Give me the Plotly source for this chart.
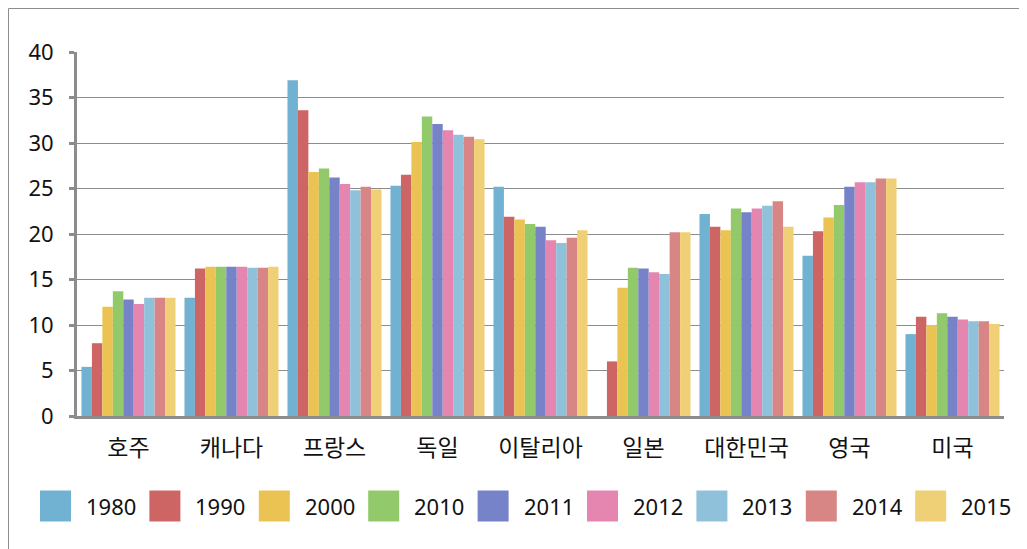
import plotly.graph_objects as go

countries = ["호주", "캐나다", "프랑스", "독일", "이탈리아", "일본", "대한민국", "영국", "미국"]
years = ["1980", "1990", "2000", "2010", "2011", "2012", "2013", "2014", "2015"]
colors = ["#71B1D1", "#CD6565", "#EBC352", "#92C96A", "#7683C8", "#E586B0", "#90C1DA", "#D78585", "#EFD077"]

v1980 = [5.4, 13.0, 36.9, 25.3, 25.2, None, 22.2, 17.6, 9.0]
v1990 = [8.0, 16.2, 33.6, 26.5, 21.9, 6.0, 20.8, 20.3, 10.9]
v2000 = [12.0, 16.4, 26.8, 30.1, 21.6, 14.1, 20.4, 21.8, 10.0]
v2010 = [13.7, 16.4, 27.2, 32.9, 21.1, 16.3, 22.8, 23.2, 11.3]
v2011 = [12.8, 16.4, 26.2, 32.1, 20.8, 16.2, 22.4, 25.2, 10.9]
v2012 = [12.3, 16.4, 25.5, 31.4, 19.3, 15.8, 22.8, 25.7, 10.6]
v2013 = [13.0, 16.3, 24.8, 30.9, 19.0, 15.6, 23.1, 25.7, 10.4]
v2014 = [13.0, 16.3, 25.2, 30.7, 19.6, 20.2, 23.6, 26.1, 10.4]
v2015 = [13.0, 16.4, 24.9, 30.4, 20.4, 20.2, 20.8, 26.1, 10.1]
series = [v1980, v1990, v2000, v2010, v2011, v2012, v2013, v2014, v2015]

y_ticks = [0, 5, 10, 15, 20, 25, 30, 35, 40]

# page has an 8px body margin: size and place the figure so the window shows it like the reference
OFF = 8
W, H = 1027 - OFF, 549 - OFF
L, R, T, B = 77 - OFF, 23, 52 - OFF, 133
pw, ph = W - L - R, H - T - B
FONT = "Noto Sans CJK KR, Noto Sans, sans-serif"
NUMFONT = "Noto Sans, sans-serif"
GREY = "#8C8C8C"

def px_x(x):  # page pixel -> paper
    return (x - OFF - L) / pw

def px_y(y):
    return (H - B - (y - OFF)) / ph

fig = go.Figure()
for yr, vals, col in zip(years, series, colors):
    fig.add_trace(go.Bar(name=yr, x=countries, y=vals, marker=dict(color=col, line=dict(width=0)),
                         showlegend=False))

shapes = []
annotations = []
# custom legend with large square swatches
lx0, lstep, lsw, lcy = 40, 109.4, 31, 506
for i, (yr, col) in enumerate(zip(years, colors)):
    x0 = lx0 + i * lstep
    shapes.append(dict(type="rect", xref="paper", yref="paper",
                       x0=px_x(x0), x1=px_x(x0 + lsw),
                       y0=px_y(lcy + lsw / 2), y1=px_y(lcy - lsw / 2),
                       fillcolor=col, line=dict(width=0)))
    annotations.append(dict(text=yr, xref="paper", yref="paper", x=px_x(x0 + 44), y=px_y(lcy),
                            xanchor="left", yanchor="middle", showarrow=False,
                            font=dict(family=NUMFONT, size=22, color="#111")))

# outer frame (left and top edges visible, the rest runs off the page)
shapes.append(dict(type="rect", xref="paper", yref="paper",
                   x0=px_x(OFF + 0.5), x1=px_x(1060), y0=px_y(580), y1=px_y(OFF + 0.5),
                   line=dict(color=GREY, width=1), fillcolor="rgba(0,0,0,0)", layer="below"))

fig.update_layout(
    width=W, height=H,
    margin=dict(l=L, r=R, t=T, b=B, autoexpand=False),
    paper_bgcolor="white", plot_bgcolor="white",
    barmode="group", bargap=0.087, bargroupgap=0,
    font=dict(family=FONT, size=22, color="#111"),
    shapes=shapes, annotations=annotations,
    xaxis=dict(showline=True, linecolor=GREY, linewidth=3, ticks="", showgrid=False,
               tickfont=dict(family=FONT, size=23, color="#111"), ticklabelstandoff=9,
               fixedrange=True),
    yaxis=dict(range=[0, 40], tickvals=y_ticks, showline=True, linecolor=GREY, linewidth=3,
               ticks="outside", ticklen=5, tickwidth=3, tickcolor=GREY,
               showgrid=True, gridcolor=GREY, gridwidth=1, zeroline=False,
               tickfont=dict(family=NUMFONT, size=22, color="#111"),
               ticklabelstandoff=11, fixedrange=True),
)

fig.write_html("out.html")
